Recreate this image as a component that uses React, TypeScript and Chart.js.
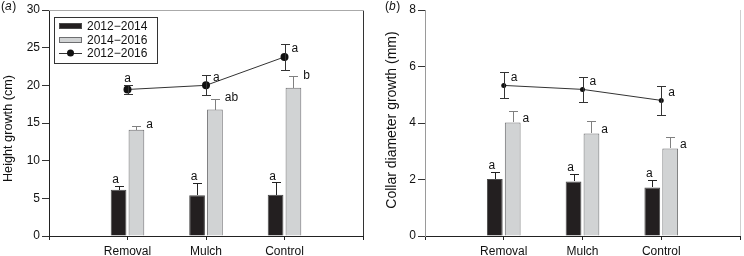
import React, { useEffect, useRef } from "react";
import { Chart, registerables } from "chart.js";
Chart.register(...registerables);

const CATEGORIES = ["Removal", "Mulch", "Control"];
const X_LABELS = ["", ...CATEGORIES, ""];
const SERIES = ["2012\u22122014", "2014\u22122016", "2012\u22122016"];

// Panel (a): height growth (cm)
const A_BAR1 = [6.15, 5.4, 5.48];
const A_BAR1_ERR = [0.53, 1.64, 1.65];
const A_BAR2 = [14.12, 16.78, 19.68];
const A_BAR2_ERR = [0.54, 1.42, 1.5];
const A_LINE = [19.45, 20.0, 23.77];
const A_LINE_ERR = [0.55, 1.33, 1.7];
const A_LET1 = ["a", "a", "a"];
const A_LET2 = ["a", "ab", "b"];
const A_LET3 = ["a", "a", "a"];
const A_TICKS = [0, 5, 10, 15, 20, 25, 30];

// Panel (b): collar diameter growth (mm)
const B_BAR1 = [2.02, 1.93, 1.72];
const B_BAR1_ERR = [0.26, 0.27, 0.28];
const B_BAR2 = [4.02, 3.63, 3.1];
const B_BAR2_ERR = [0.39, 0.45, 0.39];
const B_LINE = [5.33, 5.19, 4.8];
const B_LINE_ERR = [0.46, 0.45, 0.52];
const B_LET1 = ["a", "a", "a"];
const B_LET2 = ["a", "a", "a"];
const B_LET3 = ["a", "a", "a"];
const B_TICKS = [0, 2, 4, 6, 8];

const FONT = "'Liberation Sans', Arial, Helvetica, sans-serif";
const BLACK = "#231f20";
const GRAY = "#d1d3d4";
const GRAY_EDGE = "#6d6e70";

type Cfg = {
  panel: string;
  bar1: number[]; bar1Err: number[];
  bar2: number[]; bar2Err: number[];
  line: number[]; lineErr: number[];
  let1: string[]; let2: string[]; let3: string[];
  ticks: number[];
  yTitle: string; yTitleSize: number; yTitleX: number; yTitleY: number;
  panelX: number;
  yWidth: number; padRight: number;
  legend: boolean;
  pointRadius: number;
  lineLetterPlace: string[];
  grayAnchor: "err" | "bar";
  yBorder: string; rightBorder: string; topBorder: string | null;
};

const px = (v: number) => Math.round(v) + 0.5;

function makePlugin(cfg: Cfg) {
  return {
    id: "custom" + cfg.panel,
    afterDatasetsDraw(chart: any) {
      const ctx = chart.ctx as CanvasRenderingContext2D;
      const ys = chart.scales.y;
      const m0 = chart.getDatasetMeta(0);
      const m1 = chart.getDatasetMeta(1);
      const m2 = chart.getDatasetMeta(2);
      ctx.save();
      ctx.lineWidth = 1;
      const vline = (x: number, y1: number, y2: number) => {
        ctx.beginPath();
        ctx.moveTo(px(x), Math.round(y1));
        ctx.lineTo(px(x), Math.round(y2));
        ctx.stroke();
      };
      const cap = (x: number, y: number, half: number) => {
        ctx.beginPath();
        ctx.moveTo(Math.round(x - half), px(y));
        ctx.lineTo(Math.round(x + half) + 1, px(y));
        ctx.stroke();
      };
      // bar error bars (upper only)
      ctx.strokeStyle = "#222";
      cfg.bar1.forEach((v, i) => {
        const el = m0.data[i + 1];
        const top = ys.getPixelForValue(v + cfg.bar1Err[i]);
        vline(el.x, el.y, top);
        cap(el.x, top, 4);
      });
      ctx.strokeStyle = "#808080";
      cfg.bar2.forEach((v, i) => {
        const el = m1.data[i + 1];
        const top = ys.getPixelForValue(v + cfg.bar2Err[i]);
        vline(el.x, el.y, top);
        cap(el.x, top, 4);
      });
      // line error bars
      ctx.strokeStyle = "#333";
      cfg.line.forEach((v, i) => {
        const el = m2.data[i + 1];
        const top = ys.getPixelForValue(v + cfg.lineErr[i]);
        const bot = ys.getPixelForValue(v - cfg.lineErr[i]);
        vline(el.x, bot, top);
        cap(el.x, top, 4);
        cap(el.x, bot, 4);
      });
      // letters
      ctx.fillStyle = "#111";
      ctx.font = `12px ${FONT}`;
      ctx.textBaseline = "middle";
      cfg.let1.forEach((t, i) => {
        const el = m0.data[i + 1];
        const top = ys.getPixelForValue(cfg.bar1[i] + cfg.bar1Err[i]);
        ctx.textAlign = "center";
        ctx.fillText(t, el.x - 3, top - 6);
      });
      cfg.let2.forEach((t, i) => {
        const el = m1.data[i + 1];
        const top = ys.getPixelForValue(cfg.bar2[i] + cfg.bar2Err[i]);
        const y = cfg.grayAnchor === "err" ? top - 1 : el.y - 4;
        ctx.textAlign = "left";
        ctx.fillText(t, el.x + el.width / 2 + 2, y);
      });
      cfg.let3.forEach((t, i) => {
        const el = m2.data[i + 1];
        const top = ys.getPixelForValue(cfg.line[i] + cfg.lineErr[i]);
        if (cfg.lineLetterPlace[i] === "above") {
          ctx.textAlign = "center";
          ctx.fillText(t, el.x, top - 7);
        } else {
          ctx.textAlign = "left";
          ctx.fillText(t, el.x + 7, el.y - 8);
        }
      });
      ctx.restore();
    },
    afterDraw(chart: any) {
      const ctx = chart.ctx as CanvasRenderingContext2D;
      const a = chart.chartArea;
      ctx.save();
      ctx.lineWidth = 1;
      // right / top frame
      ctx.strokeStyle = cfg.rightBorder;
      ctx.beginPath();
      ctx.moveTo(px(a.right), Math.round(a.top));
      ctx.lineTo(px(a.right), Math.round(a.bottom));
      ctx.stroke();
      if (cfg.topBorder) {
        ctx.strokeStyle = cfg.topBorder;
        ctx.beginPath();
        ctx.moveTo(Math.round(a.left), px(a.top));
        ctx.lineTo(Math.round(a.right) + 1, px(a.top));
        ctx.stroke();
      }
      // legend
      if (cfg.legend) {
        const lx = a.left + 5;
        const ly = a.top + 7;
        ctx.strokeStyle = "#333";
        ctx.strokeRect(px(lx), px(ly), 103, 46);
        const ds = chart.data.datasets;
        const sx = lx + 5;
        const sw = 23;
        const rows = [ly + 9, ly + 22.5, ly + 35.5];
        [0, 1].forEach((k) => {
          const d = ds[k];
          ctx.fillStyle = d.backgroundColor;
          ctx.fillRect(Math.round(sx), Math.round(rows[k] - 3), sw, 6);
          ctx.strokeStyle = d.borderColor;
          ctx.strokeRect(px(sx), px(rows[k] - 3), sw - 1, 5);
        });
        ctx.strokeStyle = ds[2].borderColor;
        ctx.beginPath();
        ctx.moveTo(sx, px(rows[2]));
        ctx.lineTo(sx + sw, px(rows[2]));
        ctx.stroke();
        ctx.fillStyle = ds[2].pointBackgroundColor;
        ctx.beginPath();
        ctx.arc(sx + sw / 2, rows[2] + 0.5, 3.5, 0, Math.PI * 2);
        ctx.fill();
        ctx.fillStyle = "#111";
        ctx.font = `12px ${FONT}`;
        ctx.textAlign = "left";
        ctx.textBaseline = "middle";
        ds.forEach((d: any, k: number) => ctx.fillText(d.label, sx + sw + 5, rows[k] + 1));
      }
      // y title
      ctx.save();
      ctx.translate(cfg.yTitleX, cfg.yTitleY);
      ctx.rotate(-Math.PI / 2);
      ctx.fillStyle = "#111";
      ctx.font = `${cfg.yTitleSize}px ${FONT}`;
      ctx.textAlign = "center";
      ctx.textBaseline = "middle";
      ctx.fillText(cfg.yTitle, 0, 0);
      ctx.restore();
      // panel label (x)
      ctx.fillStyle = "#111";
      ctx.textBaseline = "top";
      ctx.textAlign = "left";
      ctx.font = `12px ${FONT}`;
      let x = cfg.panelX;
      ctx.fillText("(", x, 1);
      x += ctx.measureText("(").width;
      ctx.font = `italic 12px ${FONT}`;
      ctx.fillText(cfg.panel, x, 1);
      x += ctx.measureText(cfg.panel).width + 0.5;
      ctx.font = `12px ${FONT}`;
      ctx.fillText(")", x, 1);
      ctx.restore();
    },
  };
}

function Panel({ cfg }: { cfg: Cfg }) {
  const ref = useRef<HTMLCanvasElement | null>(null);
  useEffect(() => {
    if (!ref.current) return;
    Chart.defaults.font.family = FONT;
    const pad = (arr: number[]) => [null, ...arr, null];
    const chart = new Chart(ref.current, {
      type: "bar",
      data: {
        labels: X_LABELS,
        datasets: [
          {
            label: SERIES[0],
            data: pad(cfg.bar1) as any,
            backgroundColor: BLACK,
            borderColor: "#4a4a4a",
            borderWidth: 1,
            categoryPercentage: 0.455,
            barPercentage: 0.88,
          },
          {
            label: SERIES[1],
            data: pad(cfg.bar2) as any,
            backgroundColor: GRAY,
            borderColor: GRAY_EDGE,
            borderWidth: 1,
            categoryPercentage: 0.455,
            barPercentage: 0.88,
          },
          {
            type: "line" as any,
            label: SERIES[2],
            data: pad(cfg.line) as any,
            borderColor: "#333",
            borderWidth: 1,
            backgroundColor: "#111",
            pointBackgroundColor: "#111",
            pointBorderColor: "#111",
            pointRadius: cfg.pointRadius,
            pointBorderWidth: 0,
            spanGaps: false,
            tension: 0,
          } as any,
        ],
      },
      options: {
        animation: false,
        responsive: false,
        maintainAspectRatio: false,
        devicePixelRatio: 1,
        layout: { padding: { left: 0, right: cfg.padRight, top: 10, bottom: 0 } },
        plugins: { legend: { display: false }, tooltip: { enabled: false } },
        scales: {
          x: {
            type: "category",
            offset: false,
            grid: {
              display: true,
              offset: false,
              drawOnChartArea: false,
              drawTicks: true,
              tickLength: 4,
              color: "#222",
              tickColor: "#222",
            },
            border: { display: true, color: "#222", width: 1 },
            ticks: {
              autoSkip: false,
              maxRotation: 0,
              padding: 4,
              color: "#111",
              font: { size: 12, family: FONT },
            },
            afterFit: (s: any) => {
              s.height = 20;
            },
          } as any,
          y: {
            min: 0,
            max: cfg.ticks[cfg.ticks.length - 1],
            afterBuildTicks: (s: any) => {
              s.ticks = cfg.ticks.map((v) => ({ value: v }));
            },
            grid: {
              display: true,
              drawOnChartArea: false,
              drawTicks: true,
              tickLength: 7,
              color: "#333",
              tickColor: "#333",
            },
            border: { display: true, color: cfg.yBorder, width: 1 },
            ticks: {
              padding: 2,
              color: "#111",
              font: { size: 12, family: FONT },
            },
            afterFit: (s: any) => {
              s.width = cfg.yWidth;
            },
          } as any,
        },
      },
      plugins: [makePlugin(cfg) as any],
    });
    return () => chart.destroy();
  }, [cfg]);
  return <canvas ref={ref} width={372} height={256} style={{ display: "block", width: 372, height: 256 }} />;
}

const CFG_A: Cfg = {
  panel: "a",
  bar1: A_BAR1, bar1Err: A_BAR1_ERR,
  bar2: A_BAR2, bar2Err: A_BAR2_ERR,
  line: A_LINE, lineErr: A_LINE_ERR,
  let1: A_LET1, let2: A_LET2, let3: A_LET3,
  ticks: A_TICKS,
  yTitle: "Height growth (cm)", yTitleSize: 12.7, yTitleX: 8.5, yTitleY: 128.5,
  panelX: 1,
  yWidth: 49, padRight: 9,
  legend: true,
  pointRadius: 4,
  lineLetterPlace: ["above", "right", "right"],
  grayAnchor: "err",
  yBorder: "#222", rightBorder: "#333", topBorder: "#aaaaaa",
};

const CFG_B: Cfg = {
  panel: "b",
  bar1: B_BAR1, bar1Err: B_BAR1_ERR,
  bar2: B_BAR2, bar2Err: B_BAR2_ERR,
  line: B_LINE, lineErr: B_LINE_ERR,
  let1: B_LET1, let2: B_LET2, let3: B_LET3,
  ticks: B_TICKS,
  yTitle: "Collar diameter growth (mm)", yTitleSize: 14, yTitleX: 20, yTitleY: 120,
  panelX: 13,
  yWidth: 53, padRight: 2,
  legend: false,
  pointRadius: 2.5,
  lineLetterPlace: ["right", "right", "right"],
  grayAnchor: "bar",
  yBorder: "#9a9a9a", rightBorder: "#cfcfcf", topBorder: null,
};

export default function App() {
  return (
    <div
      style={{
        position: "fixed",
        left: 0,
        top: 0,
        width: 744,
        height: 256,
        background: "#fff",
        display: "flex",
        overflow: "hidden",
      }}
    >
      <Panel cfg={CFG_A} />
      <Panel cfg={CFG_B} />
    </div>
  );
}
